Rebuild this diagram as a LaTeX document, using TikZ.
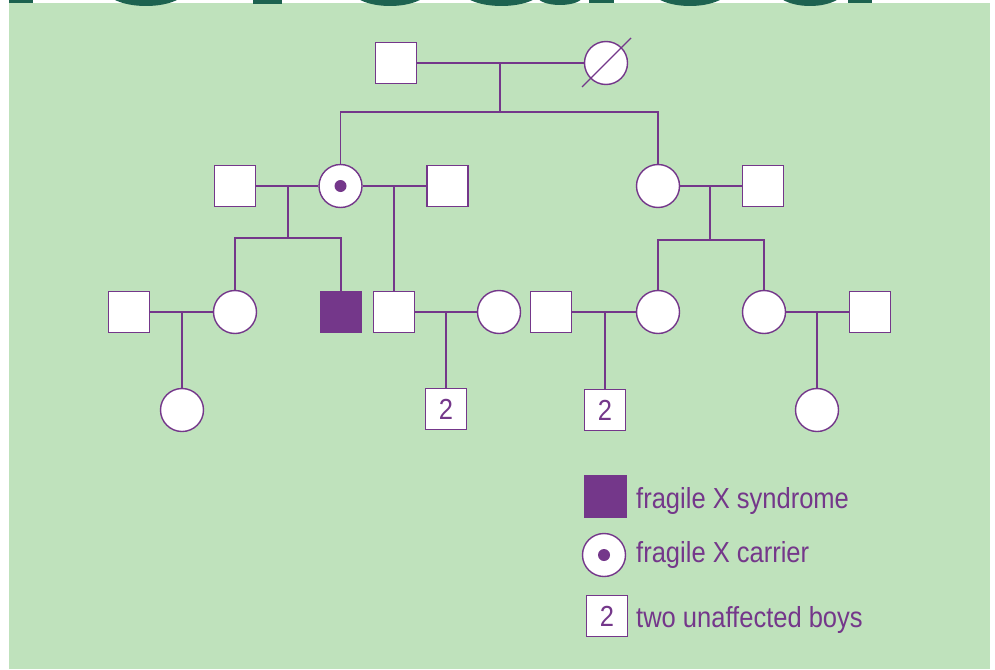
\documentclass[tikz,border=0pt]{standalone}
\usepackage{fontspec}
\setmainfont{Liberation Sans}[FakeStretch=0.88]
\usepackage{tikz}
\usepackage{xcolor}
\definecolor{plum}{RGB}{116,55,138}
\definecolor{meadow}{RGB}{191,226,188}
\definecolor{pine}{RGB}{29,98,80}

\tikzset{
    male/.style={draw=plum, line width=1.4pt, fill=white, rectangle, minimum size=41pt, inner sep=0pt, text=plum, font=\fontsize{29}{32}\selectfont},
    female/.style={draw=plum, line width=1.4pt, fill=white, circle, minimum size=43pt, inner sep=0pt},
    affected/.style={male, fill=plum},
    tie/.style={plum, line width=1.4pt},
    legtext/.style={anchor=base west, inner sep=0pt, text=plum, font=\fontsize{29}{32}\selectfont}
}

\begin{document}
\begin{tikzpicture}[x=1pt, y=-1pt]

        \useasboundingbox (0,0) rectangle (995,669);
        \fill[white] (0,0) rectangle (995,669);
        \fill[meadow] (9,3) rectangle (990,669);

        % bits of the cut-off title
        \begin{scope}
            \clip (0,0) rectangle (995,7);
            \fill[pine] (9,-5) rectangle (33,3);
            \fill[pine] (253,-5) rectangle (282,4);
            \fill[pine] (589,-5) rectangle (614,3);
            \fill[pine] (848,-5) rectangle (872,3);
            \foreach \cx/\rx in {146/41.6, 390/40, 501.5/42, 690/40, 810/36}
                \fill[pine] (\cx,-12) ellipse ({\rx pt} and 18pt);
            \fill[pine] (560,-4) ellipse (23pt and 9pt);
        \end{scope}

        % generation I
        \node[male]   (g1m) at (396,63) {};
        \node[female] (g1f) at (606,63) {};
        \draw[tie] (g1f.center) ++(-24,24) -- ++(49,-49);

        % generation II
        \node[male]   (g2a) at (235,186) {};
        \node[female] (g2b) at (340.5,186) {};
        \fill[plum] (g2b) circle (6pt);
        \node[male]   (g2c) at (447.5,186) {};
        \node[female] (g2d) at (658,186) {};
        \node[male]   (g2e) at (763,186) {};

        % generation III
        \node[male]     (g3a) at (129,312) {};
        \node[female]   (g3b) at (235,312) {};
        \node[affected] (g3c) at (341,312) {};
        \node[male]     (g3d) at (394,312) {};
        \node[female]   (g3e) at (499,312) {};
        \node[male]     (g3f) at (551,312) {};
        \node[female]   (g3g) at (658,312) {};
        \node[female]   (g3h) at (764,312) {};
        \node[male]     (g3i) at (870,312) {};

        % generation IV
        \node[female] (g4a) at (182,410) {};
        \node[male]   (g4b) at (446,409) {2};
        \node[male]   (g4c) at (605,410) {2};
        \node[female] (g4d) at (817,410) {};

        \coordinate (u1) at (500,63);   \coordinate (s1) at (500,112);
        \coordinate (u2) at (288,186);  \coordinate (s2) at (288,238);
        \coordinate (u3) at (394,186);
        \coordinate (u4) at (710,186);  \coordinate (s4) at (710,240);
        \coordinate (u5) at (182,312);
        \coordinate (u6) at (446,312);
        \coordinate (u7) at (605,312);
        \coordinate (u8) at (817,312);

        \draw[tie] (g1m.east) -- (g1f.west);
        \draw[tie] (u1) -- (s1);
        \draw[tie] (g2b.north) |- (s1) -| (g2d.north);

        \draw[tie] (g2a.east) -- (g2b.west);
        \draw[tie] (g2b.east) -- (g2c.west);
        \draw[tie] (u2) -- (s2);
        \draw[tie] (g3b.north) |- (s2) -| (g3c.north);
        \draw[tie] (u3) -- (g3d.north);

        \draw[tie] (g2d.east) -- (g2e.west);
        \draw[tie] (u4) -- (s4);
        \draw[tie] (g3g.north) |- (s4) -| (g3h.north);

        \draw[tie] (g3a.east) -- (g3b.west);
        \draw[tie] (g3d.east) -- (g3e.west);
        \draw[tie] (g3f.east) -- (g3g.west);
        \draw[tie] (g3h.east) -- (g3i.west);
        \draw[tie] (u5) -- (g4a.north);
        \draw[tie] (u6) -- (g4b.north);
        \draw[tie] (u7) -- (g4c.north);
        \draw[tie] (u8) -- (g4d.north);

        % key
        \node[affected] (lga) at (605.5,496.5) {};
        \node[legtext]  (lgat) at (636,508) {fragile X syndrome};
        \node[female]   (lgb) at (604,555) {};
        \fill[plum] (lgb) circle (6pt);
        \node[legtext]  (lgbt) at (636,562) {fragile X carrier};
        \node[male]     (lgc) at (607,616) {2};
        \node[legtext]  (lgct) at (636,627) {two unaffected boys};

\end{tikzpicture}
\end{document}
